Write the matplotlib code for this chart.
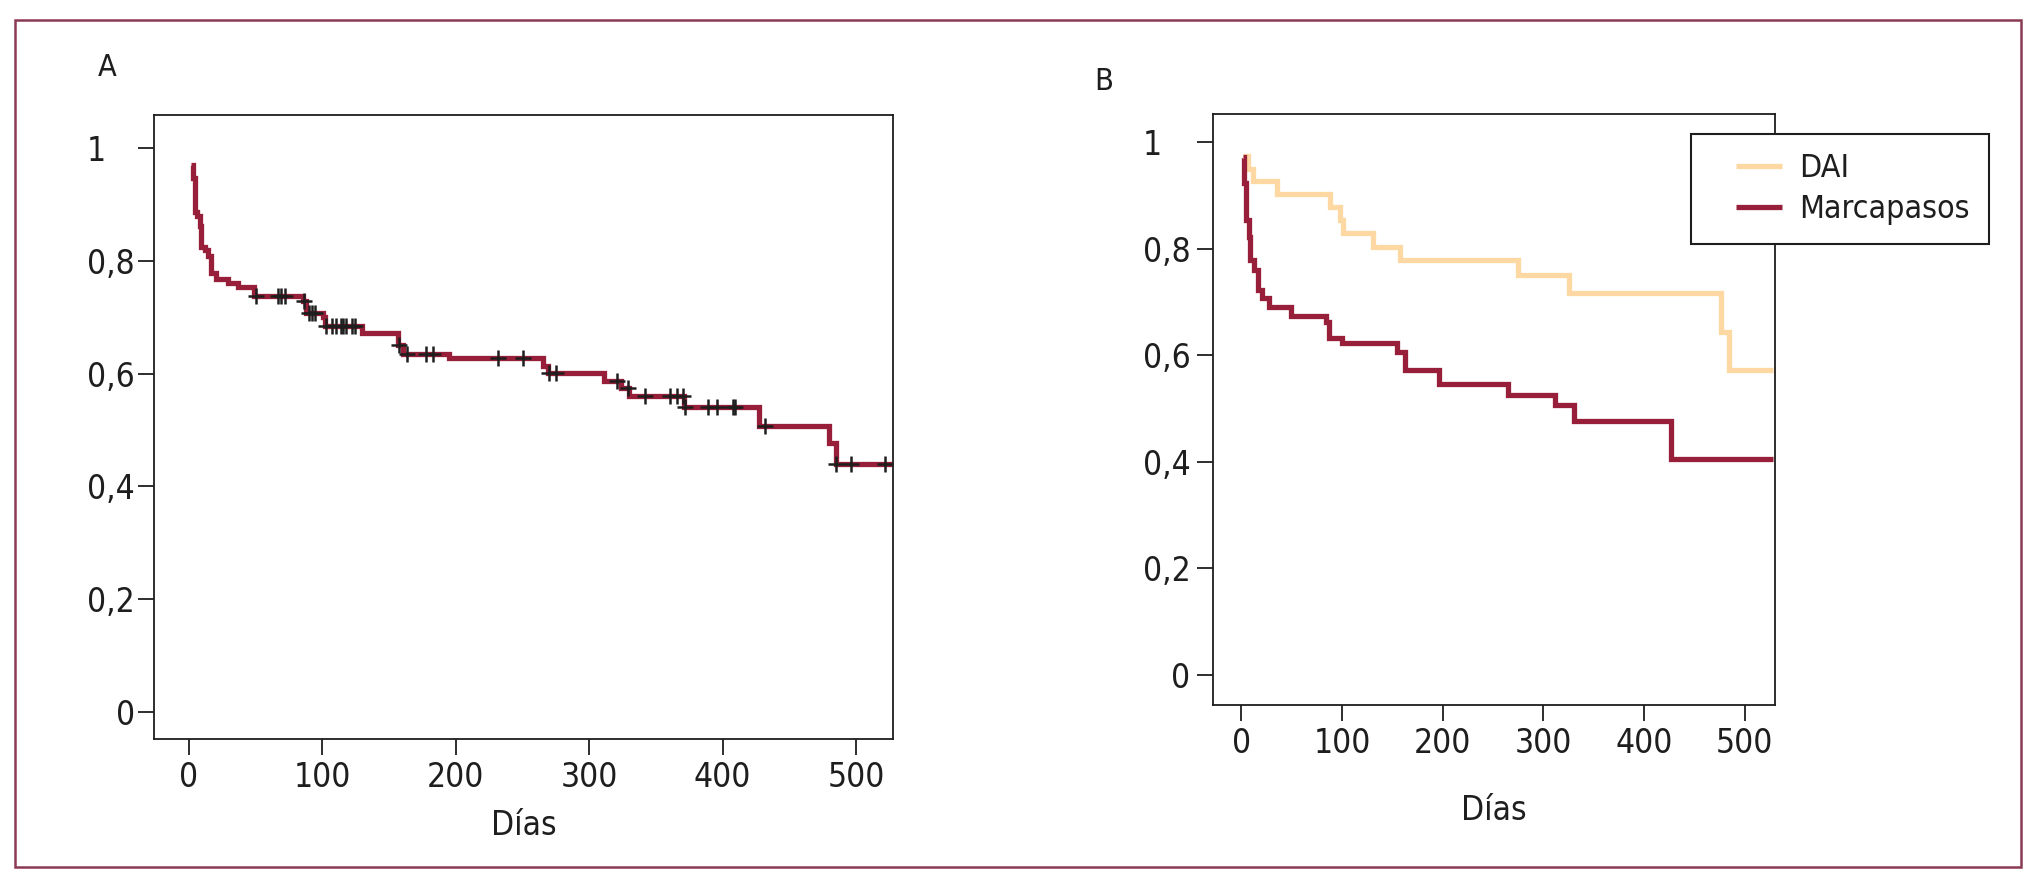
import numpy as np
import matplotlib
matplotlib.use('Agg')
import matplotlib.pyplot as plt
from matplotlib import font_manager
from matplotlib.patches import Rectangle
from matplotlib.transforms import Affine2D
from matplotlib.legend_handler import HandlerLine2D

# narrow sans if there is one (the original uses a condensed grotesque)
fonts = font_manager.fontManager.ttflist
family, stretch = 'DejaVu Sans', 'normal'
if any(f.name == 'Liberation Sans Narrow' for f in fonts):
    family = 'Liberation Sans Narrow'
elif any(f.name == 'DejaVu Sans' and 'ondensed' in f.fname for f in fonts):
    stretch = 'condensed'
elif any(f.name == 'Noto Sans' and 'Condensed' in f.fname for f in fonts):
    family, stretch = 'Noto Sans', 'condensed'
plt.rcParams['font.family'] = [family, 'DejaVu Sans']
plt.rcParams['font.stretch'] = stretch
plt.rcParams['font.size'] = 24

# panel A: overall survival (Kaplan-Meier)
days_a = [1.8, 3.1, 4.4, 6.1, 8.1, 9.3, 11.8, 14.3, 16.3, 20.6, 29.3, 36.8, 48.5,
          85.5, 87.5, 100.4, 102.4, 129.9, 156.5, 160.5, 195.2, 265.4, 269.2,
          311.1, 323.8, 330.1, 370.7, 427.3, 479.8, 484.8, 527]
surv_a = [0.970, 0.947, 0.887, 0.879, 0.861, 0.825, 0.819, 0.808, 0.778, 0.768,
          0.760, 0.754, 0.737, 0.728, 0.707, 0.701, 0.684, 0.672, 0.651, 0.635,
          0.627, 0.614, 0.602, 0.587, 0.574, 0.561, 0.540, 0.507, 0.477, 0.440,
          0.440]
censored_a = [50.0, 66.7, 69.2, 72.4, 86.6, 89.9, 92.4, 94.9, 102.9, 107.4, 110.4,
              114.1, 115.9, 117.9, 122.4, 124.9, 157.3, 163.3, 177.8, 182.8, 231.4,
              250.2, 270.0, 275.1, 321.2, 328.9, 342.0, 360.5, 365.6, 370.2, 371.9,
              389.2, 396.0, 407.9, 409.5, 431.5, 484.8, 496.3, 521.6]

# panel B: by device
days_dai = [1.9, 6.9, 11.8, 35.7, 88, 98, 101, 130.4, 157.6, 275, 325, 476, 484, 528]
surv_dai = [0.975, 0.950, 0.928, 0.903, 0.879, 0.855, 0.830, 0.804, 0.779, 0.751,
            0.718, 0.644, 0.572, 0.572]
days_mp = [1.6, 2.9, 4.9, 7.2, 8.2, 12.2, 16.1, 20.4, 27.1, 49.2, 84.3, 86.6, 99.8,
           154.4, 162.7, 195.8, 265, 311.6, 330, 427, 528]
surv_mp = [0.973, 0.923, 0.854, 0.823, 0.779, 0.760, 0.723, 0.707, 0.690, 0.674,
           0.663, 0.632, 0.623, 0.607, 0.572, 0.547, 0.525, 0.506, 0.476, 0.405,
           0.405]

yticks = [0, 0.2, 0.4, 0.6, 0.8, 1]
ytick_labels = ['0', '0,2', '0,4', '0,6', '0,8', '1']
xticks = [0, 100, 200, 300, 400, 500]

red = '#981f3a'
beige = '#fdd8a2'
ink = '#1e1e1e'

fig = plt.figure(figsize=(20.41, 8.83), dpi=100)
fig.patches.append(Rectangle((0.0072, 0.0185), 0.9830, 0.9590, transform=fig.transFigure,
                             fill=False, edgecolor='#8a3a52', linewidth=1.8))

ax_a = fig.add_axes([0.0755, 0.1631, 0.3620, 0.7062])
ax_b = fig.add_axes([0.5942, 0.2016, 0.2755, 0.6696])


def style_axes(ax, xlim, ylim, ypad, labelpad):
    ax.set_xlim(*xlim)
    ax.set_ylim(*ylim)
    ax.set_xticks(xticks)
    ax.set_yticks(yticks)
    ax.set_yticklabels(ytick_labels)
    for s in ax.spines.values():
        s.set_linewidth(1.3)
        s.set_color(ink)
    ax.tick_params(axis='both', direction='out', length=11.5, width=1.3, color=ink,
                   labelcolor=ink, labelsize=24)
    ax.tick_params(axis='y', pad=ypad)
    ax.tick_params(axis='x', pad=4)
    ax.set_xlabel('Días', fontsize=24, color=ink, labelpad=labelpad)


style_axes(ax_a, (-26, 527.6), (-0.048, 1.058), 2.5, 11)
style_axes(ax_b, (-28.4, 530), (-0.057, 1.054), 4.5, 25)

# A
ax_a.step(days_a, surv_a, where='post', color=red, linewidth=3.8,
          solid_capstyle='butt', solid_joinstyle='miter')
idx = np.searchsorted(days_a, censored_a, side='right') - 1
ax_a.plot(censored_a, np.array(surv_a)[idx], linestyle='none', marker='+',
          markersize=12, markeredgewidth=1.8, color=ink, zorder=3)

# B
ax_b.step(days_dai, surv_dai, where='post', color=beige, linewidth=3.8,
          solid_capstyle='butt', solid_joinstyle='miter', label='DAI')
ax_b.step(days_mp, surv_mp, where='post', color=red, linewidth=3.8,
          solid_capstyle='butt', solid_joinstyle='miter', label='Marcapasos')
leg = ax_b.legend(loc='upper left', bbox_to_anchor=(1691 / 2041, 1 - 134 / 883),
                  bbox_transform=fig.transFigure, borderaxespad=0, borderpad=0.6,
                  handlelength=2.25, handletextpad=0.53, labelspacing=0.31,
                  fancybox=False, framealpha=1, fontsize=23,
                  handler_map={plt.Line2D: HandlerLine2D(xpad=0.81)})
leg.get_frame().set_edgecolor(ink)
leg.get_frame().set_linewidth(1.5)
for t in leg.get_texts():
    t.set_color(ink)

fig.text(107 / 2041, 1 - 68 / 883, 'A', fontsize=22, color=ink, ha='center', va='center')
fig.text(1104 / 2041, 1 - 81 / 883, 'B', fontsize=22, color=ink, ha='center', va='center')

# the "1" label sits left-aligned with the others
fig.canvas.draw()
for ax in (ax_a, ax_b):
    labs = ax.get_yticklabels()
    shift = labs[4].get_window_extent().width - labs[5].get_window_extent().width
    labs[5].set_transform(labs[5].get_transform() + Affine2D().translate(-shift, 0))

fig.savefig('out.png', dpi=100)
